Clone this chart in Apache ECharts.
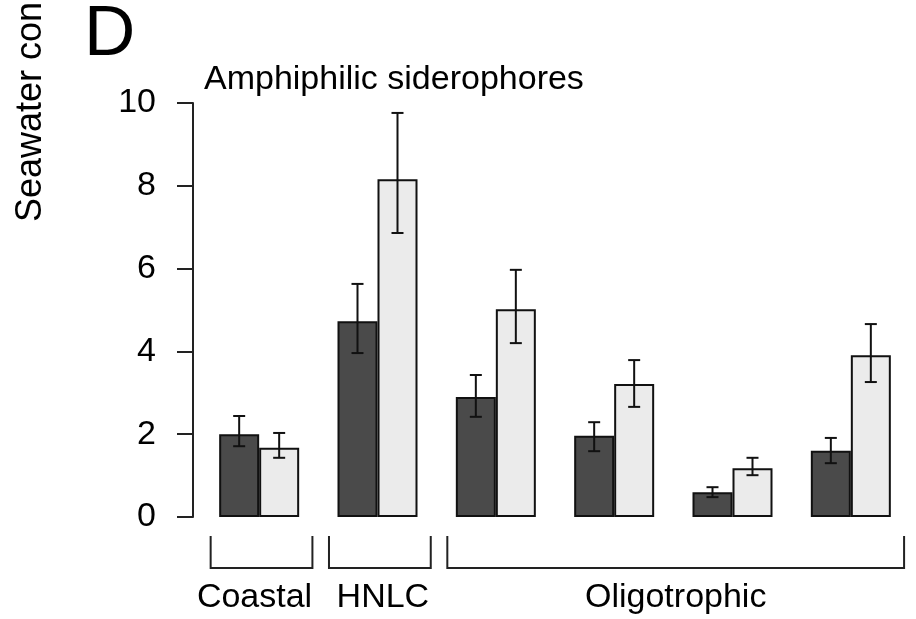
<!DOCTYPE html>
<html>
<head>
<meta charset="utf-8">
<script src="https://cdn.jsdelivr.net/npm/echarts@6/dist/echarts.min.js"></script>
<style>
  html, body { margin: 0; padding: 0; background: #fff; }
  #barChart { width: 916px; height: 619px; }
</style>
</head>
<body>
<div id="barChart"></div>
<script>
  // six stations, grouped by regime
  let stations = ['S1', 'S2', 'S3', 'S4', 'S5', 'S6']
  let darkVals = [2.0, 4.73, 2.9, 1.96, 0.6, 1.6]
  let darkHigh = [2.44, 5.63, 3.43, 2.29, 0.72, 1.91]
  let darkLow = [1.71, 3.96, 2.42, 1.59, 0.48, 1.30]
  let lightVals = [1.67, 8.16, 5.02, 3.21, 1.18, 3.91]
  let lightHigh = [2.03, 9.76, 5.97, 3.79, 1.43, 4.66]
  let lightLow = [1.43, 6.86, 4.2, 2.66, 1.01, 3.26]
  let yTicks = [0, 2, 4, 6, 8, 10]
  let groupNames = ['Coastal', 'HNLC', 'Oligotrophic']
  let groupFrom = [0, 1, 2]
  let groupTo = [0, 1, 5]

  const FONT = "'Liberation Sans', Arial, Helvetica, sans-serif"
  const BAR_W = 40
  const LABEL_SHIFT = [-7, 3, 0] // group labels are not quite centred under brackets

  function errorSeries(name, low, high, shift) {
    return {
      name: name,
      type: 'custom',
      z: 10,
      data: low.map((v, i) => [i, v, high[i]]),
      renderItem: function (params, api) {
        let lo = api.coord([api.value(0), api.value(1)])
        let hi = api.coord([api.value(0), api.value(2)])
        let x = lo[0] + shift
        let cap = 6
        let style = { stroke: '#111', lineWidth: 2 }
        return {
          type: 'group',
          children: [
            { type: 'line', shape: { x1: x, y1: lo[1], x2: x, y2: hi[1] }, style: style },
            { type: 'line', shape: { x1: x - cap, y1: lo[1], x2: x + cap, y2: lo[1] }, style: style },
            { type: 'line', shape: { x1: x - cap, y1: hi[1], x2: x + cap, y2: hi[1] }, style: style }
          ]
        }
      }
    }
  }

  let chart = echarts.init(document.getElementById('barChart'), null, { renderer: 'canvas' })
  let option = {
    backgroundColor: '#fff',
    animation: false,
    textStyle: { fontFamily: FONT },
    grid: { left: 200, right: 6, top: 103, bottom: 102, containLabel: false },
    xAxis: {
      type: 'category',
      data: stations,
      axisLine: { show: false },
      axisTick: { show: false },
      axisLabel: { show: false },
      splitLine: { show: false }
    },
    yAxis: {
      type: 'value',
      min: yTicks[0],
      max: yTicks[yTicks.length - 1],
      interval: yTicks[1] - yTicks[0],
      offset: 7,
      axisLine: { show: true, lineStyle: { color: '#222', width: 2 } },
      axisTick: { show: true, length: 16, lineStyle: { color: '#222', width: 2 } },
      axisLabel: { color: '#000', fontSize: 34, margin: 37, fontFamily: FONT },
      splitLine: { show: false }
    },
    series: [
      {
        name: 'dark',
        type: 'bar',
        data: darkVals,
        barWidth: BAR_W,
        barGap: '0%',
        itemStyle: { color: '#4a4a4a', borderColor: '#111', borderWidth: 2 }
      },
      {
        name: 'light',
        type: 'bar',
        data: lightVals,
        barWidth: BAR_W,
        barGap: '0%',
        itemStyle: { color: '#ebebeb', borderColor: '#111', borderWidth: 2 }
      },
      errorSeries('darkErr', darkLow, darkHigh, -BAR_W / 2),
      errorSeries('lightErr', lightLow, lightHigh, BAR_W / 2)
    ]
  }
  chart.setOption(option)

  // brackets under the bars, placed from the category axis
  let graphics = [
    { type: 'text', x: 84, y: 35, style: { text: 'D', fontSize: 71, fontFamily: FONT, fill: '#000', verticalAlign: 'middle' } },
    { type: 'text', x: 204, y: 80, style: { text: 'Amphiphilic siderophores', fontSize: 34, fontFamily: FONT, fill: '#000', verticalAlign: 'middle' } },
    { type: 'text', x: 31, y: 222, rotation: Math.PI / 2, style: { text: 'Seawater con', fontSize: 36, fontFamily: FONT, fill: '#000', align: 'left', verticalAlign: 'middle' } }
  ]
  let band = chart.convertToPixel({ xAxisIndex: 0 }, stations[1]) - chart.convertToPixel({ xAxisIndex: 0 }, stations[0])
  groupNames.forEach((g, k) => {
    let x1 = chart.convertToPixel({ xAxisIndex: 0 }, stations[groupFrom[k]]) - band * 0.41
    let x2 = chart.convertToPixel({ xAxisIndex: 0 }, stations[groupTo[k]]) + band * 0.45
    graphics.push({
      type: 'polyline',
      shape: { points: [[x1, 536], [x1, 568], [x2, 568], [x2, 536]] },
      style: { stroke: '#222', lineWidth: 2, fill: null }
    })
    graphics.push({
      type: 'text',
      x: (x1 + x2) / 2 + LABEL_SHIFT[k],
      y: 598,
      style: { text: g, fontSize: 34, fontFamily: FONT, fill: '#000', align: 'center', verticalAlign: 'middle' }
    })
  })
  chart.setOption({ graphic: graphics })
</script>
</body>
</html>
